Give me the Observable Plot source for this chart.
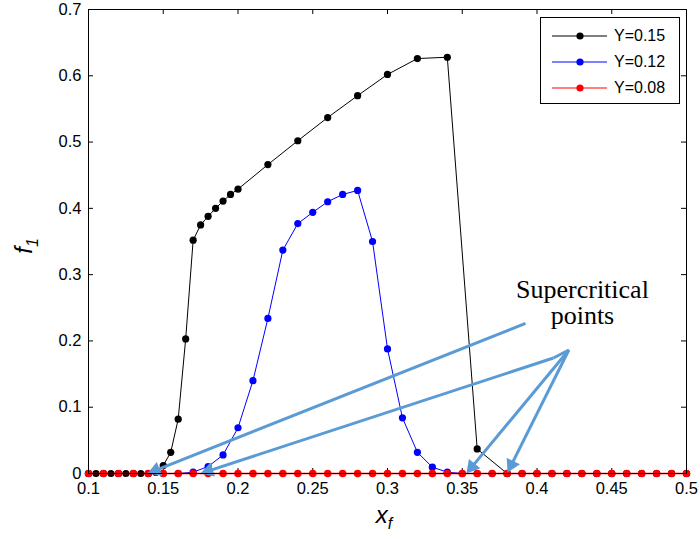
<!DOCTYPE html>
<html><head><meta charset="utf-8">
<script src="https://cdn.jsdelivr.net/npm/d3@7"></script>
<script src="https://cdn.jsdelivr.net/npm/@observablehq/plot@0.6"></script>
<style>
body{margin:0;background:#fff;}
#wrap{position:relative;width:700px;height:539px;}
#legend{position:absolute;left:540px;top:17px;width:140px;height:87px;border:1.5px solid #000;background:#fff;box-sizing:border-box;font-family:"Liberation Sans",Arial,sans-serif;font-size:16px;}
#legend .row{position:absolute;left:0;height:20px;display:flex;align-items:center;}
#legend svg{display:block;}
</style></head><body><div id="wrap"></div>
<script>
// ---- tick labels ----
const xTicks = [0.1, 0.15, 0.2, 0.25, 0.3, 0.35, 0.4, 0.45, 0.5];
const xTickLabels = ["0.1", "0.15", "0.2", "0.25", "0.3", "0.35", "0.4", "0.45", "0.5"];
const yTicks = [0, 0.1, 0.2, 0.3, 0.4, 0.5, 0.6, 0.7];
const yTickLabels = ["0", "0.1", "0.2", "0.3", "0.4", "0.5", "0.6", "0.7"];

// ---- series Y=0.15 (black) ----
const blackX = [0.1, 0.105, 0.11, 0.115, 0.12, 0.125, 0.13, 0.135, 0.14, 0.145, 0.15, 0.155, 0.16, 0.165, 0.17, 0.175, 0.18, 0.185, 0.19, 0.195, 0.2, 0.22, 0.24, 0.26, 0.28, 0.30, 0.32, 0.34, 0.36, 0.38, 0.39, 0.40, 0.41, 0.42, 0.43, 0.44, 0.45, 0.46, 0.47, 0.48, 0.49, 0.50];
const blackY = [0, 0, 0, 0, 0, 0, 0, 0, 0, 0.002, 0.012, 0.032, 0.082, 0.203, 0.352, 0.375, 0.388, 0.400, 0.411, 0.421, 0.429, 0.466, 0.502, 0.537, 0.570, 0.602, 0.626, 0.628, 0.037, 0, 0, 0, 0, 0, 0, 0, 0, 0, 0, 0, 0, 0];

// ---- series Y=0.12 (blue) ----
const blueX = [0.1, 0.11, 0.12, 0.13, 0.14, 0.15, 0.16, 0.17, 0.18, 0.19, 0.20, 0.21, 0.22, 0.23, 0.24, 0.25, 0.26, 0.27, 0.28, 0.29, 0.30, 0.31, 0.32, 0.33, 0.34, 0.35, 0.36, 0.37, 0.38, 0.39, 0.40, 0.41, 0.42, 0.43, 0.44, 0.45, 0.46, 0.47, 0.48, 0.49, 0.50];
const blueY = [0, 0, 0, 0, 0, 0, 0, 0.002, 0.0105, 0.028, 0.069, 0.140, 0.234, 0.337, 0.377, 0.394, 0.410, 0.421, 0.427, 0.350, 0.188, 0.084, 0.032, 0.0095, 0.002, 0, 0, 0, 0, 0, 0, 0, 0, 0, 0, 0, 0, 0, 0, 0, 0];

// ---- series Y=0.08 (red) ----
const redX = [0.1, 0.11, 0.12, 0.13, 0.14, 0.15, 0.16, 0.17, 0.18, 0.19, 0.20, 0.21, 0.22, 0.23, 0.24, 0.25, 0.26, 0.27, 0.28, 0.29, 0.30, 0.31, 0.32, 0.33, 0.34, 0.35, 0.36, 0.37, 0.38, 0.39, 0.40, 0.41, 0.42, 0.43, 0.44, 0.45, 0.46, 0.47, 0.48, 0.49, 0.50];
const redY = [0, 0, 0, 0, 0, 0, 0, 0, 0, 0, 0, 0, 0, 0, 0, 0, 0, 0, 0, 0, 0, 0, 0, 0, 0, 0, 0, 0, 0, 0, 0, 0, 0, 0, 0, 0, 0, 0, 0, 0, 0];

const seriesNames = ["Y=0.15", "Y=0.12", "Y=0.08"];
const seriesColors = ["#000000", "#0000ff", "#ff0000"];

// ---- annotation arrows (data coordinates) ----
const arrowTailX = [0.3923, 0.4110, 0.4213, 0.4213];
const arrowTailY = [0.2264, 0.1742, 0.1863, 0.1863];
const arrowTipX  = [0.1395, 0.1749, 0.3528, 0.3803];
const arrowTipY  = [0, 0, 0, 0.0015];
// short joining stroke of the second arrow
const joinX = [0.4110, 0.4213];
const joinY = [0.1742, 0.1863];
const noteText = "Supercritical\npoints";
const noteX = 0.4304;
const noteY = 0.257;

// ---- layout ----
const W = 700, H = 539;
const mL = 88, mR = 14, mT = 9, mB = 66;
const xDomain = [0.1, 0.5], yDomain = [0, 0.7];
const pxPerX = (W - mL - mR) / (xDomain[1] - xDomain[0]);
const pxPerY = (H - mT - mB) / (yDomain[1] - yDomain[0]);
const tickPx = 5;
const tickDX = tickPx / pxPerX, tickDY = tickPx / pxPerY;

const toRows = (xs, ys) => xs.map((x, i) => ({x, y: ys[i]}));
const black = toRows(blackX, blackY);
const blue = toRows(blueX, blueY);
const red = toRows(redX, redY);

// arrows: shaft ends at head centroid; triangle rotated to direction
const headR = 5.5;
const headTipDist = 2 * Math.sqrt(Math.PI * headR * headR / (3 * Math.sqrt(3)));
const arrows = arrowTailX.map((x1, i) => {
  const y1 = arrowTailY[i], x2 = arrowTipX[i], y2 = arrowTipY[i];
  const dx = (x2 - x1) * pxPerX, dy = -(y2 - y1) * pxPerY;
  const len = Math.hypot(dx, dy);
  const ux = dx / len, uy = dy / len;
  const cx = x2 - ux * headTipDist / pxPerX;
  const cy = y2 + uy * headTipDist / pxPerY;
  const rot = Math.atan2(dx, -dy) * 180 / Math.PI;
  return {x1, y1, x2: cx, y2: cy, cx, cy, rot};
});
const joins = [{x1: joinX[0], y1: joinY[0], x2: joinX[1], y2: joinY[1]}];

const arrowColor = "#5b9bd5";

const chart = Plot.plot({
  width: W, height: H,
  marginLeft: mL, marginRight: mR, marginTop: mT, marginBottom: mB,
  x: {domain: xDomain},
  y: {domain: yDomain},
  style: {fontFamily: "'Liberation Sans', Arial, sans-serif", fontSize: "16px", color: "#000", background: "#fff", overflow: "visible"},
  marks: [
    Plot.axisX({ticks: xTicks, tickFormat: (d, i) => xTickLabels[i], tickSize: 0, tickPadding: 9, label: null, fontSize: 16.5}),
    Plot.axisY({ticks: yTicks, tickFormat: (d, i) => yTickLabels[i], tickSize: 0, tickPadding: 7, label: null, fontSize: 16.5}),
    // inward ticks on all four sides
    Plot.ruleX(xTicks, {x: d => d, y1: yDomain[0], y2: yDomain[0] + tickDY, stroke: "#000"}),
    Plot.ruleX(xTicks, {x: d => d, y1: yDomain[1], y2: yDomain[1] - tickDY, stroke: "#000"}),
    Plot.ruleY(yTicks, {y: d => d, x1: xDomain[0], x2: xDomain[0] + tickDX, stroke: "#000"}),
    Plot.ruleY(yTicks, {y: d => d, x1: xDomain[1], x2: xDomain[1] - tickDX, stroke: "#000"}),
    // series
    Plot.line(black, {x: "x", y: "y", stroke: seriesColors[0], strokeWidth: 1}),
    Plot.dot(black, {x: "x", y: "y", fill: seriesColors[0], r: 3.6}),
    Plot.line(blue, {x: "x", y: "y", stroke: seriesColors[1], strokeWidth: 1}),
    Plot.dot(blue, {x: "x", y: "y", fill: seriesColors[1], r: 3.6}),
    Plot.line(red, {x: "x", y: "y", stroke: seriesColors[2], strokeWidth: 1.5}),
    Plot.dot(red, {x: "x", y: "y", fill: seriesColors[2], r: 3.8}),
    // annotation arrows
    Plot.link(joins, {x1: "x1", y1: "y1", x2: "x2", y2: "y2", stroke: arrowColor, strokeWidth: 3}),
    Plot.link(arrows, {x1: "x1", y1: "y1", x2: "x2", y2: "y2", stroke: arrowColor, strokeWidth: 3}),
    Plot.dot(arrows, {x: "cx", y: "cy", symbol: "triangle", r: headR, rotate: "rot", fill: arrowColor, stroke: "none"}),
    Plot.text([noteText], {x: noteX, y: noteY, text: d => d, fontFamily: "'Liberation Serif', 'Times New Roman', serif", fontSize: 26, lineHeight: 1, textAnchor: "middle", fill: "#000"}),
    Plot.frame({stroke: "#000", strokeWidth: 1})
  ]
});

document.getElementById("wrap").appendChild(chart);

// axis titles with italic letters and subscripts
const svg = d3.select(chart);
const xt = svg.append("text")
  .attr("x", 384).attr("y", 523)
  .attr("text-anchor", "middle")
  .style("font-family", "'Liberation Sans', Arial, sans-serif")
  .style("font-style", "italic").style("font-size", "24px").attr("fill", "#000");
xt.append("tspan").text("x");
xt.append("tspan").attr("dy", 6).style("font-size", "16px").text("f");

const yt = svg.append("text")
  .attr("transform", "translate(32,246) rotate(-90)")
  .attr("text-anchor", "middle")
  .style("font-family", "'Liberation Sans', Arial, sans-serif")
  .style("font-style", "italic").style("font-size", "24px").attr("fill", "#000");
yt.append("tspan").text("f");
yt.append("tspan").attr("dy", 6).style("font-size", "16px").text("1");

// legend
const leg = document.createElement("div");
leg.id = "legend";
seriesNames.forEach((name, i) => {
  const row = document.createElement("div");
  row.className = "row";
  row.style.top = (8 + i * 26) + "px";
  row.innerHTML = `<svg width="70" height="20"><line x1="11" y1="10" x2="66" y2="10" stroke="${seriesColors[i]}" stroke-width="1"/><circle cx="39" cy="10" r="3.6" fill="${seriesColors[i]}"/></svg><span style="margin-left:3px">${name}</span>`;
  leg.appendChild(row);
});
document.getElementById("wrap").appendChild(leg);
</script>
</body></html>
